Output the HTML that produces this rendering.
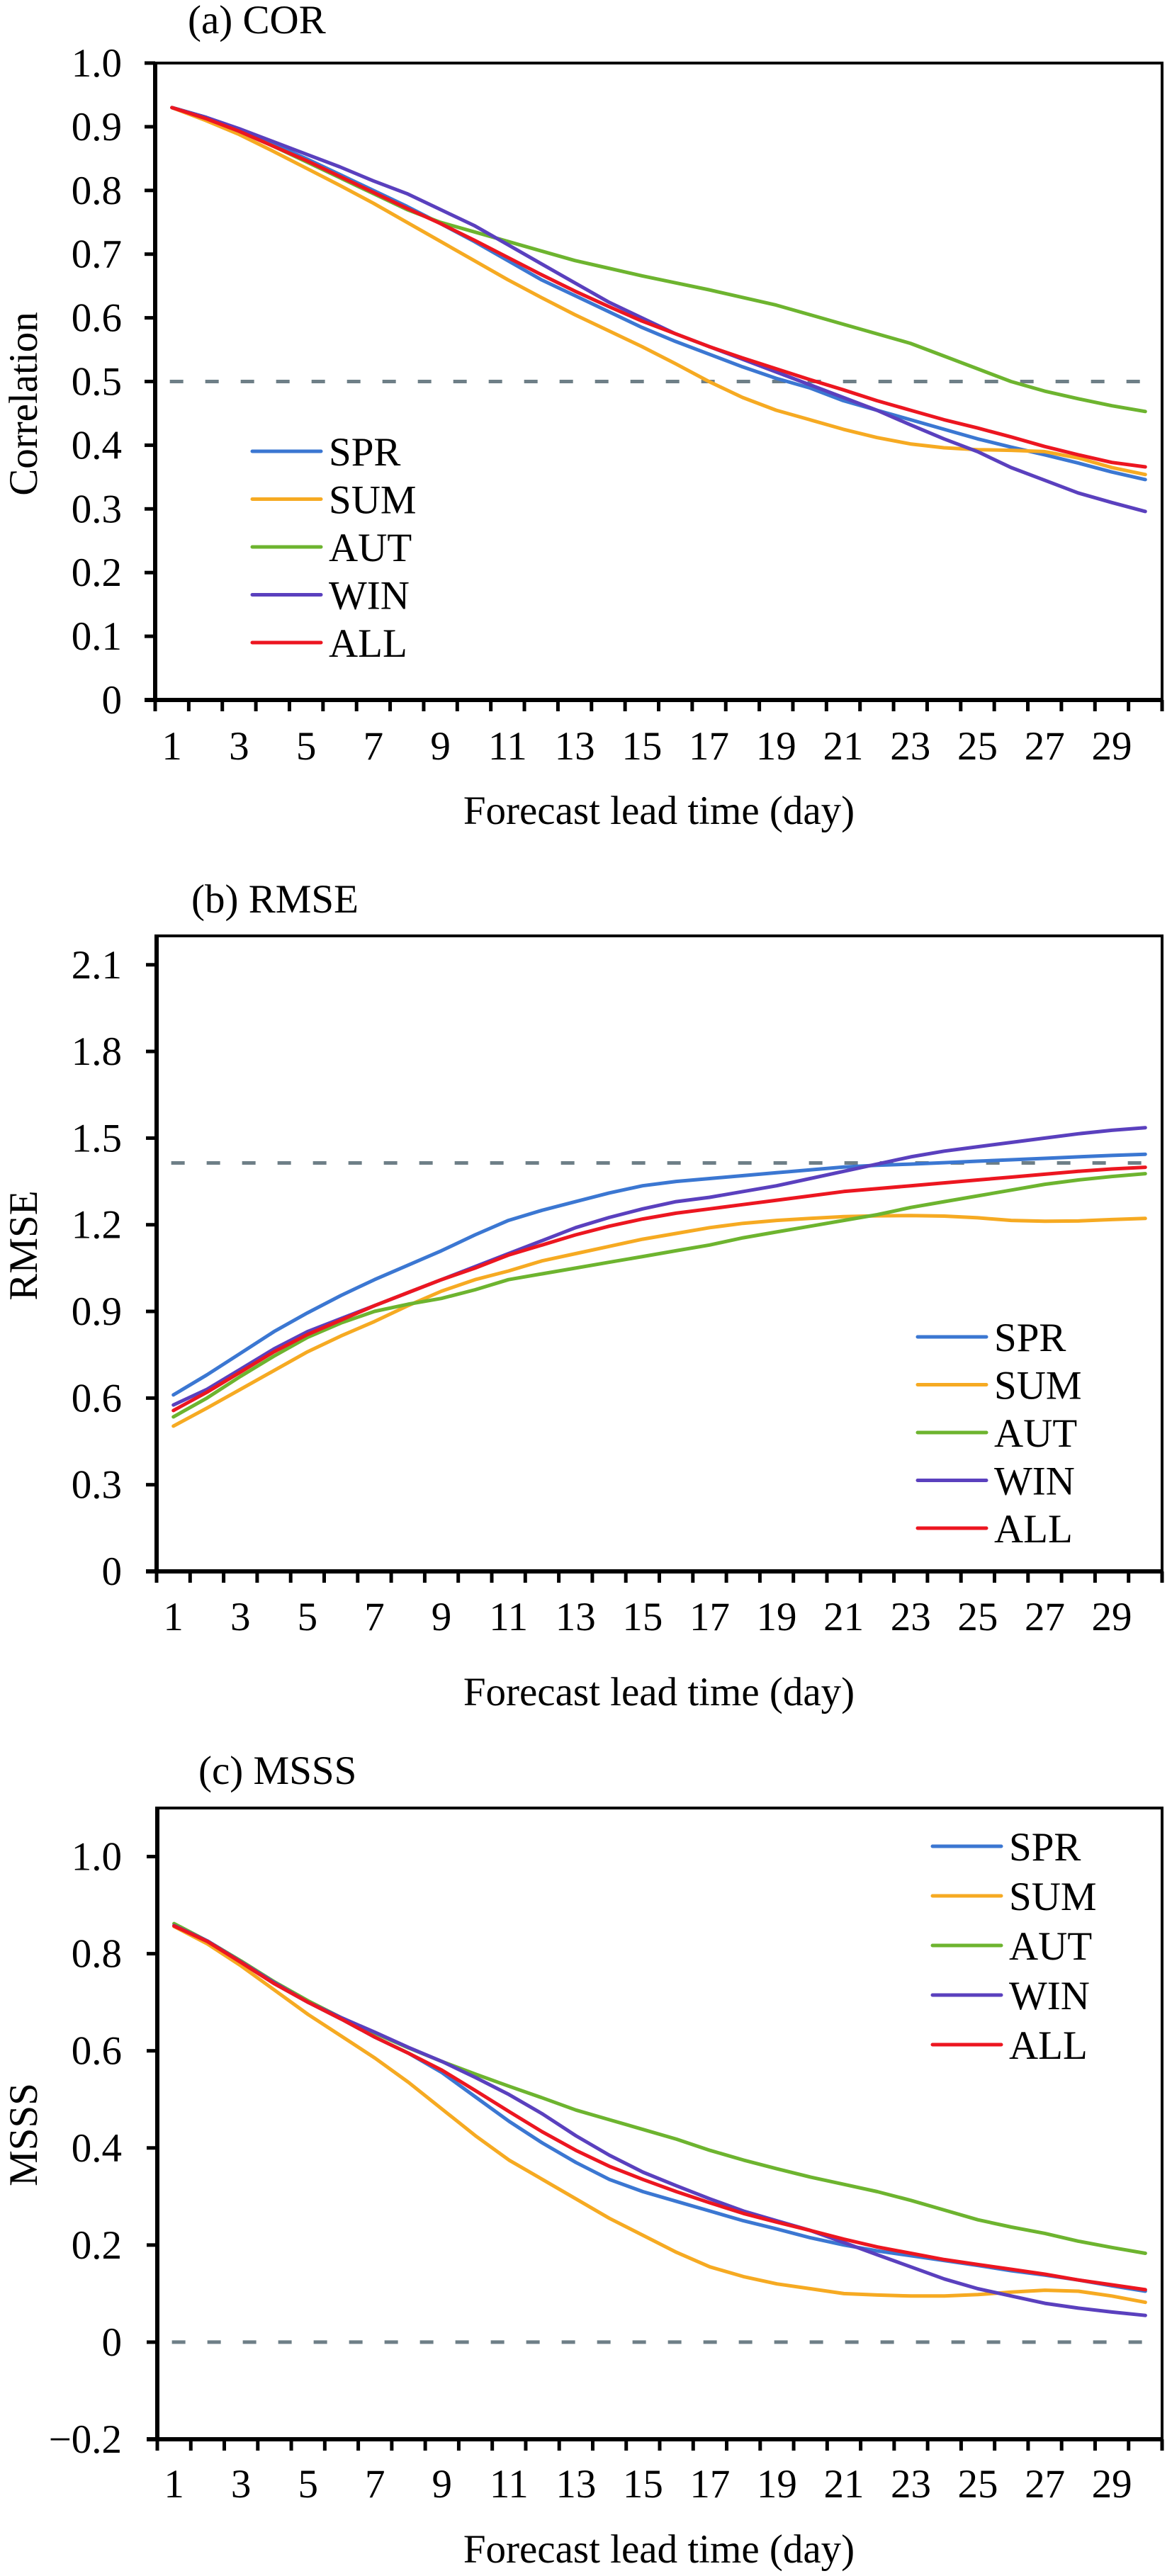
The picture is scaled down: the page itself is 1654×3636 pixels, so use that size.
<!DOCTYPE html>
<html><head><meta charset="utf-8"><style>
html,body{margin:0;padding:0;background:#fff;}
svg{display:block;font-family:"Liberation Serif","Times New Roman",serif;}
svg text{font-family:"Liberation Serif","Times New Roman",serif;fill:#000;}
</style></head>
<body>
<svg id="chart" width="1654" height="3636" viewBox="0 0 1654 3636" xmlns="http://www.w3.org/2000/svg" font-family="Liberation Serif, serif"></svg>
<script>
const days = [1,2,3,4,5,6,7,8,9,10,11,12,13,14,15,16,17,18,19,20,21,22,23,24,25,26,27,28,29,30];
const seriesNames = ["SPR","SUM","AUT","WIN","ALL"];
const xTickLabels = [1,3,5,7,9,11,13,15,17,19,21,23,25,27,29];

const corSPR = [.93,.915,.895,.873,.85,.825,.80,.775,.748,.72,.69,.66,.635,.61,.585,.563,.543,.523,.505,.49,.47,.455,.44,.425,.41,.397,.385,.372,.358,.346];
const corSUM = [.93,.91,.888,.862,.835,.808,.78,.75,.72,.69,.66,.632,.605,.58,.555,.528,.50,.475,.455,.44,.425,.412,.402,.396,.393,.392,.39,.38,.365,.354];
const corAUT = [.93,.915,.893,.87,.845,.82,.795,.77,.75,.735,.72,.705,.69,.678,.666,.655,.644,.632,.62,.605,.59,.575,.56,.54,.52,.50,.485,.473,.462,.453];
const corWIN = [.93,.915,.897,.877,.857,.837,.815,.795,.77,.745,.715,.685,.655,.625,.60,.575,.555,.535,.515,.495,.475,.455,.432,.41,.39,.365,.345,.325,.31,.296];
const corALL = [.93,.913,.893,.87,.847,.822,.797,.772,.748,.722,.695,.668,.642,.618,.595,.575,.555,.537,.52,.503,.487,.47,.455,.44,.427,.413,.398,.385,.373,.366];
const corTicks = [0,0.1,0.2,0.3,0.4,0.5,0.6,0.7,0.8,0.9,1.0];
const corTickLabels = ["0","0.1","0.2","0.3","0.4","0.5","0.6","0.7","0.8","0.9","1.0"];

const rmseSPR = [.611,.68,.755,.83,.895,.955,1.01,1.06,1.11,1.165,1.215,1.25,1.28,1.31,1.335,1.35,1.36,1.37,1.38,1.39,1.40,1.406,1.41,1.415,1.42,1.425,1.43,1.435,1.44,1.444];
const rmseSUM = [.503,.565,.63,.695,.76,.815,.865,.92,.97,1.01,1.04,1.075,1.10,1.125,1.15,1.17,1.19,1.205,1.215,1.222,1.228,1.231,1.232,1.23,1.224,1.215,1.212,1.213,1.218,1.222];
const rmseAUT = [.535,.60,.675,.745,.81,.86,.90,.925,.945,.975,1.01,1.03,1.05,1.07,1.09,1.11,1.13,1.155,1.175,1.195,1.215,1.235,1.26,1.28,1.30,1.32,1.34,1.355,1.367,1.377];
const rmseWIN = [.576,.63,.70,.77,.83,.875,.92,.965,1.01,1.055,1.10,1.145,1.19,1.225,1.255,1.28,1.295,1.315,1.335,1.36,1.385,1.41,1.435,1.455,1.47,1.485,1.50,1.515,1.527,1.536];
const rmseALL = [.557,.62,.69,.76,.82,.87,.92,.965,1.01,1.05,1.095,1.13,1.165,1.195,1.22,1.24,1.255,1.27,1.285,1.30,1.315,1.325,1.335,1.345,1.355,1.365,1.375,1.385,1.393,1.399];
const rmseTicks = [0,0.3,0.6,0.9,1.2,1.5,1.8,2.1];
const rmseTickLabels = ["0","0.3","0.6","0.9","1.2","1.5","1.8","2.1"];

const msssSPR = [.857,.825,.782,.738,.70,.665,.628,.595,.555,.505,.455,.41,.37,.335,.31,.29,.27,.25,.233,.215,.20,.188,.178,.168,.158,.147,.138,.128,.116,.105];
const msssSUM = [.856,.82,.775,.725,.675,.63,.585,.535,.48,.425,.375,.335,.295,.255,.22,.185,.155,.135,.12,.11,.10,.097,.095,.095,.098,.103,.107,.105,.095,.082];
const msssAUT = [.862,.826,.785,.742,.703,.668,.636,.606,.578,.552,.527,.503,.478,.458,.438,.418,.395,.375,.357,.34,.325,.31,.292,.272,.252,.237,.224,.208,.195,.183];
const msssWIN = [.858,.826,.783,.74,.70,.668,.638,.607,.578,.545,.51,.47,.425,.385,.35,.322,.295,.27,.25,.23,.205,.18,.155,.13,.11,.095,.08,.07,.062,.055];
const msssALL = [.857,.825,.782,.738,.70,.665,.628,.595,.56,.518,.475,.433,.395,.362,.335,.31,.287,.265,.247,.23,.212,.196,.183,.17,.16,.15,.14,.128,.118,.108];
const msssTicks = [-0.2,0,0.2,0.4,0.6,0.8,1.0];
const msssTickLabels = ["\u22120.2","0","0.2","0.4","0.6","0.8","1.0"];

const colors = {SPR:"#3b77d2",SUM:"#f6aa22",AUT:"#6db42f",WIN:"#5a40be",ALL:"#ec1620"};
const NS = "http://www.w3.org/2000/svg";
const svg = document.getElementById("chart");
const FONT = "Liberation Serif, Times New Roman, serif";

function mk(tag, attrs, parent){
  const e = document.createElementNS(NS, tag);
  for (const k in attrs) e.setAttribute(k, attrs[k]);
  if (tag === "text") e.setAttribute("font-family", FONT);
  (parent||svg).appendChild(e);
  return e;
}

function drawPanel(p){
  const g = mk("g", {});
  
  
  const L=p.left, R=1640, T=p.top, B=p.bottom;
  const n = days.length;
  const xs = d => L + (d - 0.5) * (R - L) / n;
  const ys = v => B - (v - p.ymin) / (p.ymax - p.ymin) * (B - T);

  const title = mk("text", {x:p.titleX, y:p.titleY, "font-size":57}, g);
  title.textContent = p.title;
  
  

  const frame = mk("path", {d:`M${L},${T} H${R} V${B}`, fill:"none", stroke:"#000", "stroke-width":4}, g);
  
  
  const yAxis = mk("line", {x1:L, y1:T-2, x2:L, y2:B+3, stroke:"#000", "stroke-width":6}, g);
  
  
  const xAxis = mk("line", {x1:L-15, y1:B, x2:R+2, y2:B, stroke:"#000", "stroke-width":6}, g);
  
  

  for (let i=0;i<=n;i++){
    const x = L + i*(R-L)/n;
    const t = mk("line", {x1:x, y1:B, x2:x, y2:B+16, stroke:"#000", "stroke-width":5}, g);
    
    
  }
  xTickLabels.forEach(d=>{
    const t = mk("text", {x:xs(d), y:p.xLabelY, "font-size":57, "text-anchor":"middle"}, g);
    t.textContent = d;
    
    
  });
  const xt = mk("text", {x:930, y:p.xTitleY, "font-size":57, "text-anchor":"middle"}, g);
  xt.textContent = "Forecast lead time (day)";
  
  

  p.ticks.forEach((v,i)=>{
    const y = ys(v);
    const t = mk("line", {x1:L-15, y1:y, x2:L, y2:y, stroke:"#000", "stroke-width":5}, g);
    
    
    const lb = mk("text", {x:172, y:y+19, "font-size":57, "text-anchor":"end"}, g);
    lb.textContent = p.tickLabels[i];
    
    
  });
  const yt = mk("text", {x:0, y:0, "font-size":57, "text-anchor":"middle", transform:`translate(52,${p.yTitleY}) rotate(-90)`}, g);
  yt.textContent = p.yTitle;
  
  

  const ref = mk("line", {x1:xs(1)-3, y1:ys(p.refValue), x2:xs(30), y2:ys(p.refValue), stroke:"#6e7f87", "stroke-width":5, "stroke-dasharray":"19 31"}, g);
  
  

  seriesNames.forEach(name=>{
    const vals = p.data[name];
    const d = vals.map((v,i)=>(i?"L":"M")+xs(days[i]).toFixed(1)+","+ys(v).toFixed(1)).join(" ");
    const path = mk("path", {d:d, fill:"none", stroke:colors[name], "stroke-width":5, "stroke-linejoin":"round", "stroke-linecap":"round"}, g);
    
    
  });

  seriesNames.forEach((name,i)=>{
    const y = p.legY + i*p.legStep;
    const le = mk("g", {}, g);
    
    
    mk("line", {x1:p.legX, y1:y, x2:p.legX+97, y2:y, stroke:colors[name], "stroke-width":5, "stroke-linecap":"round"}, le);
    const t = mk("text", {x:p.legX+108, y:y+20, "font-size":57}, le);
    t.textContent = name;
  });
}

drawPanel({id:"cor", title:"(a) COR", titleX:265, titleY:47, left:219, top:89, bottom:988, ymin:0, ymax:1.0,
  ticks:corTicks, tickLabels:corTickLabels, yTitle:"Correlation", yTitleY:570, refValue:0.5,
  xLabelY:1072, xTitleY:1163, legX:356, legY:637, legStep:67.5,
  data:{SPR:corSPR,SUM:corSUM,AUT:corAUT,WIN:corWIN,ALL:corALL}});
drawPanel({id:"rmse", title:"(b) RMSE", titleX:270, titleY:1288, left:221, top:1321, bottom:2218, ymin:0, ymax:2.2,
  ticks:rmseTicks, tickLabels:rmseTickLabels, yTitle:"RMSE", yTitleY:1758, refValue:1.414,
  xLabelY:2301, xTitleY:2407, legX:1295, legY:1887, legStep:67.5,
  data:{SPR:rmseSPR,SUM:rmseSUM,AUT:rmseAUT,WIN:rmseWIN,ALL:rmseALL}});
drawPanel({id:"msss", title:"(c) MSSS", titleX:280, titleY:2518, left:222, top:2552, bottom:3443, ymin:-0.2, ymax:1.1,
  ticks:msssTicks, tickLabels:msssTickLabels, yTitle:"MSSS", yTitleY:3013, refValue:0,
  xLabelY:3525, xTitleY:3617, legX:1316, legY:2606, legStep:70,
  data:{SPR:msssSPR,SUM:msssSUM,AUT:msssAUT,WIN:msssWIN,ALL:msssALL}});
</script>
</body></html>
